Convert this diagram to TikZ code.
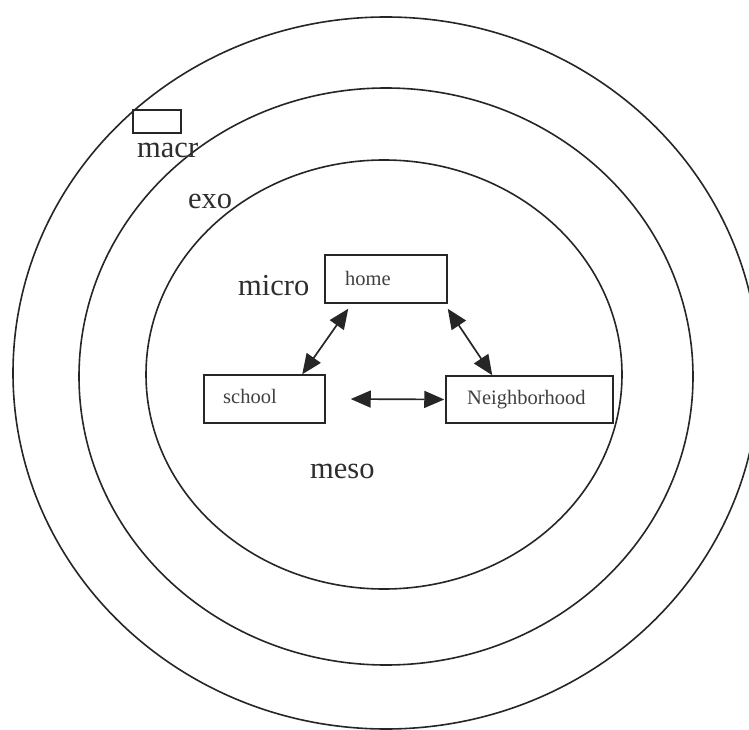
\documentclass[tikz,border=0pt]{standalone}
\usepackage{fontspec}
\setmainfont{Liberation Serif}
\usetikzlibrary{arrows.meta}
\definecolor{ink}{HTML}{262626}
\definecolor{txt}{HTML}{2E2E2E}
\definecolor{smalltxt}{HTML}{404040}
\tikzset{
  ring/.style={draw=ink, line width=1.6pt},
  sysbox/.style={draw=ink, line width=1.5pt, rectangle, inner sep=0pt},
  biglabel/.style={text=txt, font=\fontsize{30.5}{32}\selectfont, inner sep=0pt, anchor=base west},
  boxlabel/.style={text=smalltxt, font=\fontsize{20.5}{22}\selectfont, inner sep=0pt, anchor=base west},
  link/.style={draw=ink, line width=1.7pt, {Triangle[length=20pt,width=17pt]}-{Triangle[length=20pt,width=17pt]}}
}
\begin{document}
\begin{tikzpicture}[x=1pt, y=-1pt]
\useasboundingbox (0,0) rectangle (749,730);
\fill[white] (0,0) rectangle (749,730);

% nested system rings
\draw[ring] (386,373) ellipse [x radius=373, y radius=356];
\draw[ring] (386,376.5) ellipse [x radius=307, y radius=288.5];
\draw[ring] (384,374.5) ellipse [x radius=238, y radius=214.5];

% empty legend box above the macro label
\node[sysbox, minimum width=48pt, minimum height=23pt] (legend) at (157,121.5) {};

% ring labels
\node[biglabel] (lmacr) at (137,158) {macr};
\node[biglabel] (lexo) at (188,208) {exo};
\node[biglabel] (lmicro) at (238,295) {micro};
\node[biglabel] (lmeso) at (310,478) {meso};

% microsystem settings
\node[sysbox, minimum width=122pt, minimum height=48pt] (home) at (386,279) {};
\node[sysbox, minimum width=121pt, minimum height=48pt] (school) at (264.5,399) {};
\node[sysbox, minimum width=167pt, minimum height=47pt] (neigh) at (529.5,399.5) {};

\node[boxlabel] (thome) at (345,285) {home};
\node[boxlabel] (tschool) at (223,403) {school};
\node[boxlabel] (tneigh) at (467,404) {Neighborhood};

% mesosystem links
\draw[link] ([xshift=24pt,yshift=-5pt]home.south west) -- ([xshift=99pt]school.north west);
\draw[link] ([yshift=-5pt]home.south east) -- ([xshift=47pt]neigh.north west);
\draw[link] ([xshift=25pt]school.east) -- ([xshift=-1pt]neigh.west);
\end{tikzpicture}
\end{document}
